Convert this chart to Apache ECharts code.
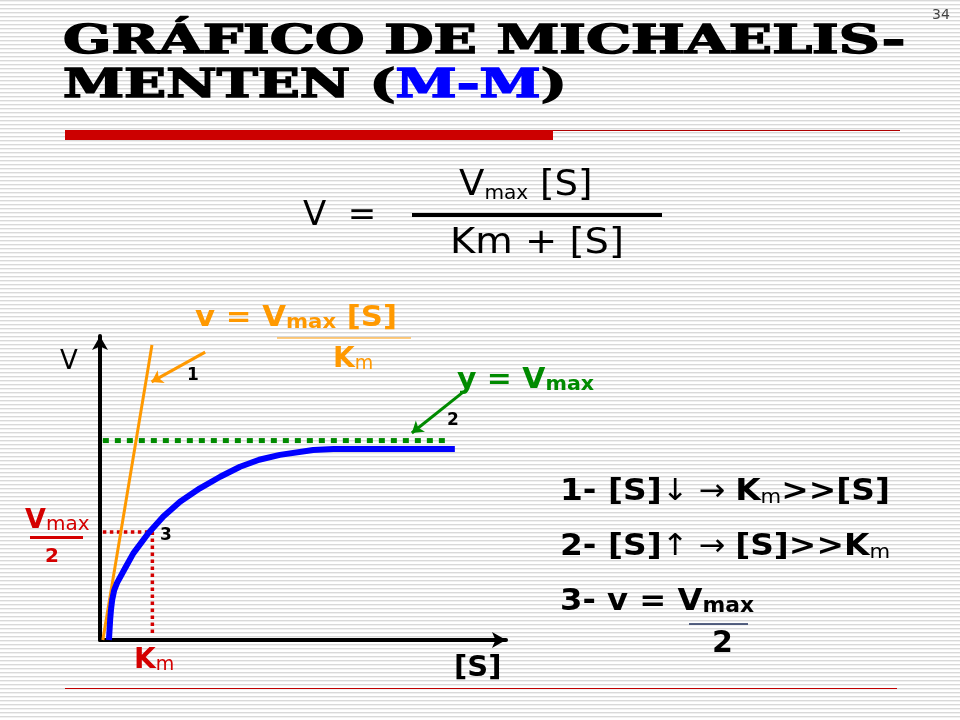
<!DOCTYPE html>
<html>
<head>
<meta charset="utf-8">
<style>
  html, body { margin: 0; padding: 0; background: #fff; }
  #main { width: 960px; height: 720px; }
</style>
<script src="https://cdn.jsdelivr.net/npm/echarts@6/dist/echarts.min.js"></script>
</head>
<body>
<div id="main"></div>
<script>
// curva de Michaelis-Menten (unidades arbitrarias 0-100)
var curveS = [2.2, 2.5, 2.7, 3.0, 3.5, 4.2, 6.2, 8.2, 11.9, 15.6, 19.7, 24.6, 29.6, 34.5, 39.2, 44.3, 52.5, 57.5, 87.4];
var curveV = [0, 6.6, 9.9, 13.2, 16.4, 18.8, 23.7, 28.5, 35.1, 40.6, 45.5, 49.9, 53.7, 57.0, 59.3, 60.9, 62.5, 62.8, 62.8];
// asintota y = Vmax (punteada verde)
var vmaxS = [0.7, 85.0];
var vmaxV = [65.6, 65.6];
// pendiente inicial v = Vmax[S]/Km (naranja)
var slopeS = [0.7, 12.8];
var slopeV = [0, 97.0];
// Vmax/2 y Km (punteada roja)
var halfS = [0.7, 12.9, 12.9];
var halfV = [35.5, 35.5, 2.0];
// flechas 1 y 2
var arrow1 = [[25.9, 94.7], [12.7, 84.9]];
var arrow2 = [[89.2, 81.3], [76.8, 68.1]];

function pairs(xs, ys) {
  return xs.map(function (x, i) { return [x, ys[i]]; });
}

// fondo rayado
var tile = document.createElement('canvas');
tile.width = 4; tile.height = 4;
var tc = tile.getContext('2d');
tc.fillStyle = '#ffffff'; tc.fillRect(0, 0, 4, 4);
tc.fillStyle = '#d9d9d9'; tc.fillRect(0, 0, 4, 1);
tc.fillStyle = '#f0f0f0'; tc.fillRect(0, 1, 4, 1);

var SANS = '"DejaVu Sans", Verdana, sans-serif';
var ORANGE = '#ff9900', GREEN = '#008a00', RED = '#d40000', BLUE = '#0000ff';

function t(x, y, text, rich, extra, sx) {
  var st = { x: 0, y: 0, text: text, rich: rich || {}, align: 'left', verticalAlign: 'middle',
             fill: '#000', font: 'bold 26px ' + SANS };
  for (var k in (extra || {})) st[k] = extra[k];
  return { type: 'text', x: x, y: y, scaleX: sx || 1, z: 100, silent: true, style: st };
}
function r(size, color, weight) {
  return { fontSize: size, fill: color, fontWeight: weight || 'bold', fontFamily: SANS, verticalAlign: 'bottom' };
}
var shadow = { textShadowColor: '#9a9a9a', textShadowOffsetX: 2, textShadowOffsetY: 2, textShadowBlur: 0 };

var myChart = echarts.init(document.getElementById('main'));

var option = {
  animation: false,
  backgroundColor: { image: tile, repeat: 'repeat' },
  grid: { left: 100, top: 336, width: 406, height: 304 },
  xAxis: {
    type: 'value', min: 0, max: 100,
    axisLine: { show: true, onZero: false, symbol: ['none', 'arrow'], symbolSize: [12, 14],
                lineStyle: { color: '#000', width: 4 } },
    axisTick: { show: false }, axisLabel: { show: false }, splitLine: { show: false }
  },
  yAxis: {
    type: 'value', min: 0, max: 100,
    axisLine: { show: true, onZero: false, symbol: ['none', 'arrow'], symbolSize: [12, 14],
                lineStyle: { color: '#000', width: 4 } },
    axisTick: { show: false }, axisLabel: { show: false }, splitLine: { show: false }
  },
  series: [
    {
      type: 'line', data: pairs(slopeS, slopeV), showSymbol: false,
      lineStyle: { color: ORANGE, width: 3 }, z: 3
    },
    {
      type: 'line', data: pairs(vmaxS, vmaxV), showSymbol: false,
      lineStyle: { color: GREEN, width: 5, type: [6, 6] }, z: 2
    },
    {
      type: 'line', data: pairs(halfS, halfV), showSymbol: false,
      lineStyle: { color: RED, width: 3.5, type: [3.5, 3.5] }, z: 2
    },
    {
      type: 'line', data: pairs(curveS, curveV), showSymbol: false,
      smooth: false,
      lineStyle: { color: BLUE, width: 6, join: 'round' }, z: 4
    },
    {
      type: 'lines', coordinateSystem: 'cartesian2d',
      symbol: ['none', 'arrow'], symbolSize: 11,
      data: [
        { coords: arrow1, lineStyle: { color: ORANGE, width: 3, opacity: 1 } },
        { coords: arrow2, lineStyle: { color: GREEN, width: 3, opacity: 1 } }
      ],
      z: 5
    }
  ],
  graphic: [
    // numero de diapositiva
    t(932, 15, '34', null, { font: '14px ' + SANS, fill: '#444' }),
    // titulo
    {
      type: 'text', x: 63, y: 43, scaleX: 1.42, silent: true,
      style: { text: 'GRÁFICO DE MICHAELIS-', font: 'bold 40px "DejaVu Serif", serif', fill: '#000',
               stroke: '#000', lineWidth: 1.5, verticalAlign: 'middle' }
    },
    {
      type: 'text', x: 63, y: 87, scaleX: 1.38, silent: true,
      style: {
        text: '{k|MENTEN (}{b|M-M}{k|)}', verticalAlign: 'middle',
        rich: {
          k: { font: 'bold 40px "DejaVu Serif", serif', fill: '#000', stroke: '#000', lineWidth: 1.5 },
          b: { font: 'bold 40px "DejaVu Serif", serif', fill: BLUE, stroke: BLUE, lineWidth: 1.5 }
        }
      }
    },
    { type: 'rect', shape: { x: 65, y: 130, width: 488, height: 10 }, style: { fill: '#cc0000' }, silent: true },
    { type: 'line', shape: { x1: 553, y1: 130.5, x2: 900, y2: 130.5 }, style: { stroke: '#b00000', lineWidth: 1 }, silent: true },
    { type: 'line', shape: { x1: 65, y1: 688.5, x2: 897, y2: 688.5 }, style: { stroke: '#c00000', lineWidth: 1 }, silent: true },
    // ecuacion principal
    t(303, 216, 'V  =', null, { font: '34px ' + SANS }),
    t(459, 186, '{a|V}{s|max}{a| [S]}', { a: r(35, '#000', 'normal'), s: r(19, '#000', 'normal') }, { font: '35px ' + SANS }, 1.06),
    { type: 'rect', shape: { x: 412, y: 213, width: 250, height: 4 }, style: { fill: '#000' }, silent: true },
    t(450, 244, 'Km + [S]', null, Object.assign({ font: '35px ' + SANS }, shadow), 1.1),
    // etiquetas del grafico
    t(60, 362, 'V', null, { font: '26px ' + SANS }),
    t(195, 318, '{a|v = V}{s|max}{a| [S]}', { a: r(29, ORANGE), s: r(20, ORANGE) }, { fill: ORANGE }, 1.06),
    { type: 'line', shape: { x1: 277, y1: 338, x2: 411, y2: 338 }, style: { stroke: ORANGE, lineWidth: 1 }, silent: true },
    t(333, 360, '{a|K}{s|m}', { a: r(28, ORANGE), s: r(19, ORANGE, 'normal') }, { fill: ORANGE }),
    t(187, 376, '1', null, Object.assign({ font: 'bold 17px ' + SANS }, shadow)),
    t(457, 380, '{a|y = V}{s|max}', { a: r(29, GREEN), s: r(20, GREEN) }, { fill: GREEN }, 1.03),
    t(447, 421, '2', null, Object.assign({ font: 'bold 17px ' + SANS }, shadow)),
    t(160, 536, '3', null, Object.assign({ font: 'bold 17px ' + SANS }, shadow)),
    t(25, 521, '{a|V}{s|max}', { a: r(27, RED), s: r(20, RED, 'normal') }, { fill: RED }),
    { type: 'rect', shape: { x: 30, y: 536, width: 53, height: 3 }, style: { fill: RED }, silent: true },
    t(45, 557, '2', null, { font: 'bold 20px ' + SANS, fill: RED }),
    t(134, 661, '{a|K}{s|m}', { a: r(28, RED), s: r(19, RED, 'normal') }, { fill: RED }),
    t(454, 668, '[S]', null, Object.assign({ font: 'bold 29px ' + SANS }, shadow)),
    // conclusiones
    t(560, 492, '{a|1- [S]}{n|↓ → }{a|K}{s|m}{a|>>[S]}',
      { a: r(31, '#000'), n: r(30, '#000', 'normal'), s: r(20, '#000', 'normal') }, null, 1.06),
    t(560, 547, '{a|2- [S]}{n|↑ → }{a|[S]>>K}{s|m}',
      { a: r(31, '#000'), n: r(30, '#000', 'normal'), s: r(20, '#000', 'normal') }, null, 1.06),
    t(560, 602, '{a|3- v = V}{s|max}', { a: r(31, '#000'), s: r(21, '#000') }, null, 1.04),
    { type: 'line', shape: { x1: 689, y1: 624, x2: 748, y2: 624 }, style: { stroke: '#1f2f5a', lineWidth: 1.5 }, silent: true },
    t(712, 644, '2', null, { font: 'bold 30px ' + SANS })
  ]
};

myChart.setOption(option);
</script>
</body>
</html>
